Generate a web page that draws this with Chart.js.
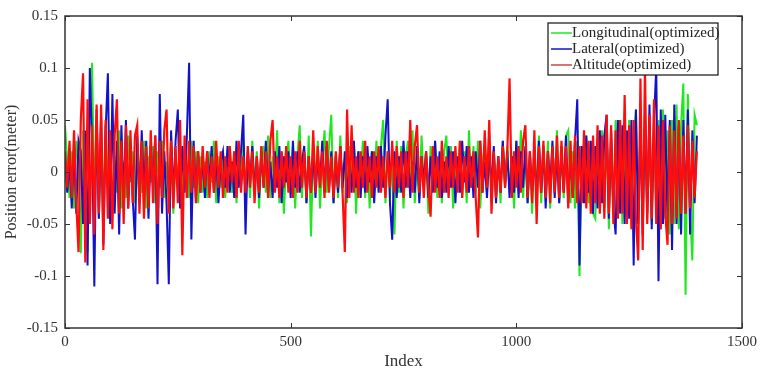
<!DOCTYPE html>
<html>
<head>
<meta charset="utf-8">
<title>Position error</title>
<script src="https://cdn.jsdelivr.net/npm/chart.js@4.4.1/dist/chart.umd.min.js"></script>
<style>
    html, body { margin: 0; padding: 0; background: #fff; }
    canvas { display: block; }
</style>
</head>
<body>
<canvas id="errorChart" width="765" height="376"></canvas>
<script>
// Sample spacing along the index axis (one value every STEP samples)
const STEP = 5;

// Tick labels
const xTickValues = [0, 500, 1000, 1500];
const yTickValues = [-0.15, -0.1, -0.05, 0, 0.05, 0.1, 0.15];

const seriesNames = ['Longitudinal(optimized)', 'Lateral(optimized)', 'Altitude(optimized)'];

// Longitudinal error (green)
const longitudinal = [
    0.045, 0.01, -0.025, 0.02, -0.035, 0.03, 0.005, -0.078, 0.04, -0.02,
    -0.077, 0.062, 0.105, -0.03, 0.05, -0.045, 0.02, -0.03, 0.045, -0.015,
    0.03, -0.04, 0.015, -0.02, 0.04, -0.035, 0.01, -0.025, 0.035, -0.01,
    0.02, -0.03, 0.025, 0.005, -0.02, 0.03, -0.035, 0.015, -0.01, 0.025,
    -0.03, 0.02, -0.015, 0.03, -0.025, 0.01, -0.02, 0.035, -0.04, 0.015,
    -0.01, 0.025, -0.03, 0.02, 0.005, -0.025, 0.03, -0.015, 0.02, -0.03,
    0.015, -0.02, 0.01, -0.025, 0.02, -0.01, 0.03, -0.03, 0.015, -0.015,
    0.02, -0.025, 0.01, 0.025, -0.02, 0.005, -0.03, 0.02, -0.01, 0.03,
    -0.02, 0.015, -0.025, 0.03, -0.015, 0.02, -0.035, 0.01, 0.025, -0.02,
    0.035, -0.025, 0.015, -0.01, 0.04, -0.03, 0.02, -0.04, 0.01, 0.03,
    -0.02, 0.025, -0.035, 0.015, 0.045, -0.025, 0.02, -0.03, 0.035, -0.062,
    0.02, -0.015, 0.03, -0.035, 0.01, 0.04, -0.02, 0.025, 0.055, -0.03,
    0.015, -0.025, 0.035, -0.02, 0.01, -0.03, 0.025, -0.015, 0.03, -0.04,
    0.02, -0.01, 0.03, -0.025, 0.015, -0.035, 0.02, -0.02, 0.03, -0.015,
    0.025, 0.05, -0.03, 0.02, -0.025, 0.015, -0.06, 0.03, -0.02, 0.025,
    -0.035, 0.015, 0.03, -0.02, 0.04, -0.03, 0.01, -0.025, 0.035, -0.015,
    0.02, -0.04, 0.025, -0.01, 0.03, -0.025, 0.015, -0.03, 0.02, 0.035,
    -0.02, 0.025, -0.035, 0.015, -0.01, 0.03, -0.025, 0.02, -0.03, 0.04,
    -0.015, 0.025, -0.02, 0.03, -0.035, 0.01, 0.025, -0.02, 0.035, -0.03,
    0.02, -0.025, 0.015, -0.03, 0.03, -0.01, 0.025, -0.02, 0.015, -0.035,
    0.03, -0.02, 0.04, -0.025, 0.02, -0.03, 0.015, -0.04, 0.025, -0.02,
    0.035, -0.03, 0.02, -0.015, 0.03, -0.035, 0.025, -0.02, 0.04, -0.03,
    0.02, -0.025, 0.035, 0.04, -0.03, 0.02, -0.035, 0.03, -0.1, 0.025,
    -0.02, 0.035, -0.03, 0.025, -0.04, -0.045, 0.03, -0.025, 0.04, -0.035,
    0.045, -0.055, 0.03, -0.04, 0.05, -0.03, 0.04, -0.05, 0.035, -0.045,
    0.05, -0.04, 0.035, 0.06, -0.05, 0.04, -0.035, 0.055, -0.045, 0.04,
    -0.05, 0.045, -0.04, 0.05, -0.055, 0.06, -0.045, 0.04, -0.06, 0.05,
    -0.05, 0.065, -0.055, 0.045, 0.085, -0.118, 0.075, -0.04, -0.085, 0.055,
    0.045,
];

// Lateral error (blue)
const lateral = [
    0.015, -0.02, 0.01, -0.035, 0.025, -0.04, 0.03, 0.02, -0.05, 0.04,
    -0.09, 0.1, 0.03, -0.11, 0.06, -0.045, 0.055, -0.07, 0.04, 0.095,
    -0.05, 0.075, -0.04, 0.03, -0.06, 0.045, -0.03, 0.05, -0.035, 0.02,
    -0.025, -0.065, 0.035, -0.03, 0.04, -0.02, 0.03, -0.045, 0.025, -0.015,
    0.035, -0.108, 0.075, -0.04, 0.02, -0.03, -0.108, 0.04, -0.025, 0.03,
    0.06, -0.035, 0.025, -0.02, 0.035, 0.105, -0.065, 0.03, -0.025, 0.02,
    -0.02, 0.015, -0.025, 0.02, -0.01, 0.025, -0.02, 0.015, -0.03, 0.01,
    0.02, -0.015, 0.025, -0.02, 0.01, -0.025, 0.03, -0.015, 0.02, 0.055,
    -0.06, 0.02, -0.01, 0.025, -0.02, 0.015, -0.025, 0.02, -0.015, 0.03,
    -0.02, 0.01, -0.025, 0.02, -0.015, 0.025, -0.03, 0.015, -0.01, 0.02,
    -0.025, 0.03, -0.015, 0.02, -0.02, 0.01, 0.025, -0.03, 0.015, -0.02,
    0.02, -0.025, 0.015, -0.01, 0.03, -0.02, 0.025, -0.015, 0.02, -0.03,
    0.015, -0.02, 0.025, -0.015, 0.02, -0.025, 0.01, -0.02, 0.03, -0.015,
    0.02, -0.025, 0.015, -0.02, 0.025, -0.01, 0.02, -0.03, 0.015, -0.02,
    0.025, -0.015, 0.035, 0.07, -0.03, -0.065, 0.02, -0.025, 0.015, -0.02,
    0.03, -0.015, 0.02, -0.025, 0.01, -0.02, 0.025, -0.03, 0.015, -0.01,
    0.02, -0.025, 0.015, -0.02, 0.03, -0.015, 0.02, -0.025, 0.01, -0.02,
    0.025, -0.015, 0.02, -0.03, 0.015, -0.02, 0.03, -0.01, 0.025, -0.02,
    0.015, -0.025, 0.02, -0.015, 0.03, -0.02, 0.01, -0.025, 0.02, -0.015,
    0.025, -0.03, 0.015, -0.02, 0.03, -0.015, 0.02, -0.025, 0.015, -0.02,
    0.03, -0.025, 0.02, -0.015, 0.025, -0.03, 0.02, -0.02, 0.015, -0.025,
    0.03, -0.02, 0.025, -0.035, 0.02, -0.015, 0.03, -0.025, 0.02, -0.03,
    0.025, -0.02, 0.035, -0.03, 0.02, -0.025, 0.03, 0.07, -0.09, 0.025,
    -0.03, 0.035, -0.02, 0.03, -0.04, 0.025, -0.035, 0.04, -0.03, 0.035,
    0.055, -0.045, 0.04, -0.035, -0.06, 0.05, -0.04, 0.045, -0.05, 0.04,
    -0.045, 0.05, -0.09, 0.06, -0.05, 0.045, -0.06, 0.055, -0.04, 0.065,
    -0.055, 0.05, 0.1, -0.105, 0.06, -0.05, 0.055, -0.045, 0.05, -0.075,
    0.065, -0.05, 0.045, -0.06, 0.05, -0.04, 0.06, -0.06, 0.04, -0.03,
    0.035,
];

// Altitude error (red)
const altitude = [
    0.02, -0.015, 0.03, -0.025, 0.04, -0.03, -0.077, 0.05, 0.095, -0.087,
    0.07, -0.05, 0.045, -0.06, 0.065, -0.04, 0.065, -0.075, 0.05, -0.045,
    0.04, -0.055, 0.035, 0.07, -0.04, 0.03, -0.05, 0.045, -0.035, 0.04,
    -0.03, 0.035, 0.045, -0.04, 0.03, -0.045, 0.025, -0.035, 0.04, -0.03,
    0.035, -0.05, 0.03, -0.025, 0.04, 0.06, -0.04, 0.03, -0.035, 0.025,
    -0.03, 0.05, -0.08, 0.035, -0.025, 0.03, -0.02, 0.025, -0.03, 0.02,
    -0.02, 0.025, -0.015, 0.02, -0.025, 0.015, -0.02, 0.03, -0.015, 0.02,
    -0.025, 0.015, -0.02, 0.025, -0.01, 0.02, -0.025, 0.03, -0.02, 0.015,
    -0.02, 0.025, -0.015, 0.02, -0.03, 0.015, -0.02, 0.025, -0.015, 0.02,
    -0.025, 0.03, 0.05, -0.02, 0.015, -0.025, 0.02, -0.015, 0.025, -0.02,
    0.015, -0.025, 0.02, -0.02, 0.03, -0.015, 0.02, -0.025, 0.015, -0.02,
    0.04, -0.02, 0.025, -0.015, 0.02, -0.025, 0.03, -0.02, 0.015, -0.025,
    0.02, -0.015, 0.025, -0.02, -0.077, 0.06, -0.025, 0.045, -0.02, 0.015,
    -0.025, 0.02, -0.015, 0.03, -0.02, 0.015, -0.025, 0.02, -0.015, 0.025,
    -0.02, 0.015, -0.025, 0.02, -0.015, 0.03, -0.02, 0.025, -0.015, 0.02,
    -0.025, 0.02, -0.015, 0.05, -0.02, 0.025, 0.045, -0.02, 0.015, -0.025,
    0.02, -0.015, -0.043, 0.025, -0.02, 0.015, -0.025, 0.03, -0.02, 0.015,
    -0.025, 0.02, -0.015, 0.025, -0.02, 0.03, -0.025, 0.015, -0.02, 0.025,
    -0.015, 0.02, -0.025, -0.063, 0.03, -0.02, 0.04, -0.015, 0.05, -0.04,
    0.02, -0.025, 0.015, -0.02, 0.025, -0.015, 0.02, 0.09, -0.025, 0.02,
    -0.015, 0.025, -0.02, 0.03, 0.045, -0.025, 0.02, -0.03, 0.04, -0.05,
    0.025, -0.02, 0.03, -0.025, 0.02, -0.03, 0.025, -0.02, 0.035, -0.025,
    0.03, -0.02, 0.025, -0.035, 0.03, -0.025, 0.035, -0.03, 0.025, -0.03,
    0.04, -0.035, 0.03, -0.04, 0.035, -0.03, 0.045, -0.04, 0.035, -0.045,
    0.055, -0.04, 0.045, -0.05, 0.04, -0.045, 0.05, -0.04, 0.074, -0.05,
    0.045, -0.055, 0.05, -0.045, -0.085, 0.09, -0.075, 0.1, -0.05, 0.055,
    -0.045, 0.07, -0.05, 0.045, -0.055, 0.05, -0.04, -0.07, 0.045, -0.05,
    0.04, -0.045, 0.05, -0.04, 0.035, -0.04, 0.045, -0.035, 0.03, -0.025,
    0.02,
];

const colors = ['#1fe81f', '#1212c8', '#ff0d0d'];
const fontFamily = '"Liberation Serif", "DejaVu Serif", serif';
const axisColor = '#333';

// Turn a value list into {x, y} points on the index axis
function toPoints(values) {
    return values.map((v, i) => ({ x: i * STEP, y: v }));
}

// Box around the plot, inward ticks (MATLAB style) and the legend box
const framePlugin = {
    id: 'frame',
    afterDraw(chart) {
        const ctx = chart.ctx;
        const area = chart.chartArea;
        const xScale = chart.scales.x;
        const yScale = chart.scales.y;
        const tick = 5;

        ctx.save();
        ctx.strokeStyle = axisColor;
        ctx.lineWidth = 1.5;
        ctx.strokeRect(area.left, area.top, area.right - area.left, area.bottom - area.top);

        ctx.lineWidth = 1;
        ctx.beginPath();
        xTickValues.forEach((v) => {
            const px = Math.round(xScale.getPixelForValue(v)) + 0.5;
            ctx.moveTo(px, area.bottom);
            ctx.lineTo(px, area.bottom - tick);
            ctx.moveTo(px, area.top);
            ctx.lineTo(px, area.top + tick);
        });
        yTickValues.forEach((v) => {
            const py = Math.round(yScale.getPixelForValue(v)) + 0.5;
            ctx.moveTo(area.left, py);
            ctx.lineTo(area.left + tick, py);
            ctx.moveTo(area.right, py);
            ctx.lineTo(area.right - tick, py);
        });
        ctx.stroke();

        // Legend (top right, inside the axes)
        const boxLeft = area.right - 194;
        const boxTop = area.top + 7;
        const boxW = 170;
        const boxH = 52;
        ctx.fillStyle = '#fff';
        ctx.fillRect(boxLeft, boxTop, boxW, boxH);
        ctx.strokeStyle = '#111';
        ctx.lineWidth = 1.2;
        ctx.strokeRect(boxLeft, boxTop, boxW, boxH);

        ctx.font = '15px ' + fontFamily;
        ctx.textBaseline = 'middle';
        ctx.textAlign = 'left';
        for (let x = 0; x < seriesNames.length; x++) {
            const rowY = boxTop + 10 + x * 16;
            ctx.strokeStyle = x === 2 ? '#c84646' : colors[x];
            ctx.lineWidth = 1.5;
            ctx.beginPath();
            ctx.moveTo(boxLeft + 3, rowY);
            ctx.lineTo(boxLeft + 24, rowY);
            ctx.stroke();
            ctx.fillStyle = '#222';
            ctx.fillText(seriesNames[x], boxLeft + 24, rowY);
        }
        ctx.restore();
    },
};

const ctx = document.getElementById('errorChart').getContext('2d');

const chart = new Chart(ctx, {
    type: 'line',
    data: {
        datasets: [{
            label: seriesNames[0],
            data: toPoints(longitudinal),
            borderColor: colors[0],
            order: 3,
        }, {
            label: seriesNames[1],
            data: toPoints(lateral),
            borderColor: colors[1],
            order: 2,
        }, {
            label: seriesNames[2],
            data: toPoints(altitude),
            borderColor: colors[2],
            borderWidth: 2.2,
            order: 1,
        },
        ],
    },
    options: {
        responsive: false,
        devicePixelRatio: 1,
        animation: false,
        layout: {
            padding: { top: 13, right: 23, left: 0, bottom: 0 },
        },
        elements: {
            line: { borderWidth: 2, tension: 0 },
            point: { radius: 0 },
        },
        plugins: {
            legend: { display: false },
            tooltip: { enabled: false },
        },
        scales: {
            x: {
                type: 'linear',
                min: 0,
                max: 1500,
                afterBuildTicks(scale) {
                    scale.ticks = xTickValues.map((v) => ({ value: v }));
                },
                afterFit(scale) {
                    scale.height = 48;
                },
                grid: { display: false, drawTicks: false },
                border: { display: false },
                ticks: {
                    padding: 5,
                    color: axisColor,
                    font: { family: fontFamily, size: 15 },
                    callback: (v) => String(v),
                },
                title: {
                    display: true,
                    text: 'Index',
                    color: axisColor,
                    padding: { top: 0, bottom: 4 },
                    font: { family: fontFamily, size: 17 },
                },
            },
            y: {
                min: -0.15,
                max: 0.15,
                afterBuildTicks(scale) {
                    scale.ticks = yTickValues.map((v) => ({ value: v }));
                },
                afterFit(scale) {
                    scale.width = 65;
                },
                grid: { display: false, drawTicks: false },
                border: { display: false },
                ticks: {
                    padding: 7,
                    color: axisColor,
                    font: { family: fontFamily, size: 15 },
                    callback: (v) => String(Math.round(v * 100) / 100),
                },
                title: {
                    display: true,
                    text: 'Position error(meter)',
                    color: axisColor,
                    padding: { top: 2, bottom: 2 },
                    font: { family: fontFamily, size: 16 },
                },
            },
        },
    },
    plugins: [framePlugin],
});
</script>
</body>
</html>
